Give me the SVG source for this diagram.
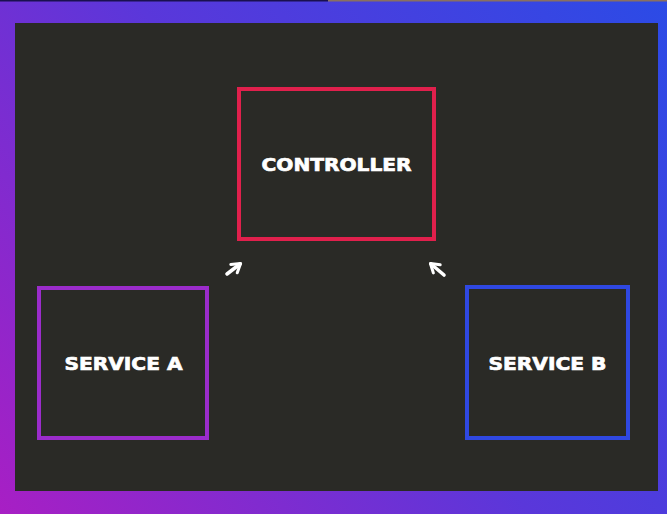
<svg xmlns="http://www.w3.org/2000/svg" width="667" height="514" viewBox="0 0 667 514">
<defs>
<linearGradient id="bg" x1="0" y1="514" x2="667" y2="0" gradientUnits="userSpaceOnUse">
<stop offset="0" stop-color="#a81fc4"/>
<stop offset="0.5" stop-color="#5a37da"/>
<stop offset="1" stop-color="#2b4be6"/>
</linearGradient>
<marker id="ah" viewBox="0 0 10 10" refX="6.5" refY="5" markerWidth="4.2" markerHeight="4.2" orient="auto" markerUnits="strokeWidth">
<path d="M1.5,1.5 L7,5 L1.5,8.5" fill="none" stroke="#ffffff" stroke-width="2" stroke-linecap="round" stroke-linejoin="round"/>
</marker>
<style>
.box{fill:none;stroke-width:4}
.lbl{font-family:"DejaVu Sans",sans-serif;font-weight:bold;font-size:18px;fill:#ffffff;stroke:#ffffff;stroke-width:0.7;text-anchor:middle}
.con{stroke:#ffffff;stroke-width:3.6;stroke-linecap:round;fill:none}
</style>
</defs>
<rect x="0" y="0" width="667" height="514" fill="url(#bg)"/>
<rect x="0" y="0" width="328" height="1.5" fill="#1a1050"/>
<rect x="328" y="0" width="339" height="1.5" fill="#8a7060"/>
<rect x="15" y="23" width="643" height="468" fill="#2a2a26"/>
<g id="connectors">
<path class="con" d="M227,274 L240,264" marker-end="url(#ah)"/>
<path class="con" d="M444,275 L431,264" marker-end="url(#ah)"/>
</g>
<g id="controller">
<rect class="box" x="239" y="89" width="195" height="150" stroke="#e0204c"/>
<text class="lbl" x="336.5" y="171" textLength="150" lengthAdjust="spacingAndGlyphs">CONTROLLER</text>
</g>
<g id="service-a">
<rect class="box" x="39" y="288" width="168" height="150" stroke="#9b2ccb"/>
<text class="lbl" x="123.5" y="370" textLength="118" lengthAdjust="spacingAndGlyphs">SERVICE A</text>
</g>
<g id="service-b">
<rect class="box" x="467" y="287" width="161" height="151" stroke="#2f48e2"/>
<text class="lbl" x="547.5" y="370" textLength="118" lengthAdjust="spacingAndGlyphs">SERVICE B</text>
</g>
</svg>
